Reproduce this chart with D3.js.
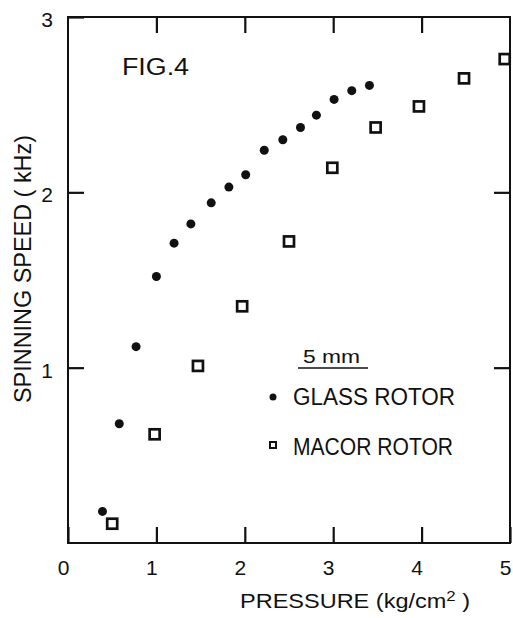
<!DOCTYPE html>
<html>
<head>
<meta charset="utf-8">
<script src="https://cdn.jsdelivr.net/npm/d3@7"></script>
<style>
  body { margin: 0; background: #fff; }
  svg text { font-family: "Liberation Sans", "DejaVu Sans", sans-serif; fill: #111; }
</style>
</head>
<body>
<script>
// values
var glassPressure = [0.39, 0.58, 0.77, 1.00, 1.20, 1.39, 1.62, 1.82, 2.01, 2.22, 2.43, 2.63, 2.81, 3.01, 3.21, 3.41];
var glassSpeed    = [0.18, 0.68, 1.12, 1.52, 1.71, 1.82, 1.94, 2.03, 2.10, 2.24, 2.30, 2.37, 2.44, 2.53, 2.58, 2.61];
var macorPressure = [0.50, 0.98, 1.47, 1.97, 2.50, 2.99, 3.48, 3.97, 4.48, 4.94];
var macorSpeed    = [0.11, 0.62, 1.01, 1.35, 1.72, 2.14, 2.37, 2.49, 2.65, 2.76];
var xTicks = [0, 1, 2, 3, 4, 5];
var yTicks = [1, 2, 3];

var width = 513, height = 618;
var plotLeft = 68, plotRight = 510, plotTop = 17, plotBottom = 543;
var tickLen = 16;

var svg = d3.select("body").append("svg")
    .attr("width", width)
    .attr("height", height);

var x = d3.scaleLinear().domain([0, 5]).range([plotLeft, plotRight]);
var y = d3.scaleLinear().domain([0, 3]).range([plotBottom, plotTop]);

// bottom axis: labels and inward ticks
var gx = svg.append("g")
    .attr("transform", "translate(0," + plotBottom + ")")
    .call(d3.axisBottom(x).tickValues(xTicks).tickFormat(d3.format("d"))
      .tickSizeInner(-tickLen).tickSizeOuter(0).tickPadding(17));
gx.selectAll("text").attr("dx", -5).style("font-size", "21px");

// top ticks
svg.append("g")
    .attr("transform", "translate(0," + plotTop + ")")
    .call(d3.axisTop(x).tickValues([1, 2, 3, 4]).tickFormat("")
      .tickSizeInner(-tickLen).tickSizeOuter(0));

// left axis: labels and inward ticks
var gy = svg.append("g")
    .attr("transform", "translate(" + plotLeft + ",0)")
    .call(d3.axisLeft(y).tickValues(yTicks).tickFormat(d3.format("d"))
      .tickSizeInner(-tickLen).tickSizeOuter(0).tickPadding(15));
gy.selectAll("text").attr("dy", "0.45em").style("font-size", "21px");

// right ticks
svg.append("g")
    .attr("transform", "translate(" + plotRight + ",0)")
    .call(d3.axisRight(y).tickValues([1, 2]).tickFormat("")
      .tickSizeInner(-tickLen).tickSizeOuter(0));

svg.selectAll(".domain").remove();
svg.selectAll(".tick line")
    .style("stroke", "#111")
    .style("stroke-width", "2.2px");

// frame
svg.append("path")
    .attr("d", "M" + plotLeft + "," + plotTop + "H" + plotRight + "V" + plotBottom + "H" + plotLeft + "Z")
    .style("fill", "none").style("stroke", "#111").style("stroke-width", "2px");

// glass rotor
svg.selectAll(".glass")
    .data(glassPressure)
    .enter().append("circle")
    .attr("class", "glass")
    .attr("cx", function(d) { return x(d); })
    .attr("cy", function(d, i) { return y(glassSpeed[i]); })
    .attr("r", 4.5)
    .attr("fill", "#111");

// macor rotor
svg.selectAll(".macor")
    .data(macorPressure)
    .enter().append("rect")
    .attr("class", "macor")
    .attr("x", function(d) { return x(d) - 5; })
    .attr("y", function(d, i) { return y(macorSpeed[i]) - 5; })
    .attr("width", 10).attr("height", 10)
    .attr("fill", "none")
    .attr("stroke", "#111")
    .attr("stroke-width", 2.7);

// titles
svg.append("text")
    .attr("x", 240).attr("y", 608)
    .attr("textLength", 230).attr("lengthAdjust", "spacingAndGlyphs")
    .style("font-size", "21px")
    .html("PRESSURE (kg/cm<tspan dy='-7' style='font-size:15px'>2</tspan><tspan dy='7'> )</tspan>");

svg.append("text")
    .attr("transform", "translate(31,403) rotate(-90)")
    .attr("textLength", 268).attr("lengthAdjust", "spacingAndGlyphs")
    .style("font-size", "24px")
    .text("SPINNING SPEED ( kHz)");

svg.append("text")
    .attr("x", 122).attr("y", 75)
    .attr("textLength", 67).attr("lengthAdjust", "spacingAndGlyphs")
    .style("font-size", "23px")
    .text("FIG.4");

// legend
svg.append("text")
    .attr("x", 303).attr("y", 363)
    .attr("textLength", 57).attr("lengthAdjust", "spacingAndGlyphs")
    .style("font-size", "18px")
    .text("5 mm");
svg.append("line")
    .attr("x1", 298).attr("x2", 368).attr("y1", 368).attr("y2", 368)
    .attr("stroke", "#111").attr("stroke-width", 1.5);

svg.append("circle")
    .attr("cx", 273).attr("cy", 397).attr("r", 3.5).attr("fill", "#111");
svg.append("text")
    .attr("x", 293).attr("y", 405)
    .attr("textLength", 162).attr("lengthAdjust", "spacingAndGlyphs")
    .style("font-size", "23px")
    .text("GLASS  ROTOR");

svg.append("rect")
    .attr("x", 270).attr("y", 442).attr("width", 6).attr("height", 6)
    .attr("fill", "none").attr("stroke", "#111").attr("stroke-width", 2);
svg.append("text")
    .attr("x", 293).attr("y", 455)
    .attr("textLength", 160).attr("lengthAdjust", "spacingAndGlyphs")
    .style("font-size", "23px")
    .text("MACOR ROTOR");
</script>
</body>
</html>
